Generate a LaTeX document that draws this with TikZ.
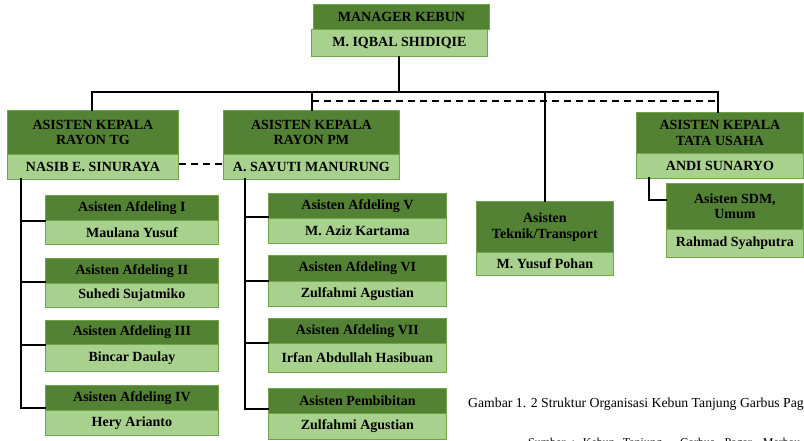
\documentclass[tikz,border=0pt]{standalone}
\usepackage{fontspec}
\setmainfont{Liberation Serif}
\begin{document}
\begin{tikzpicture}[x=1pt,y=-1pt,
  box/.style={draw=bordergreen, line width=0.8pt, inner sep=0pt, anchor=north west, align=center,
    font=\fontsize{14}{15.5}\selectfont\bfseries},
  dk/.style={box, fill=darkgreen},
  lt/.style={box, fill=lightgreen},
  con/.style={line width=2pt, line cap=rect},
  dcon/.style={line width=1.6pt, dash pattern=on 7pt off 5pt},
  captext/.style={anchor=base west, inner sep=0pt, font=\fontsize{13.75}{15}\selectfont}]
\definecolor{darkgreen}{HTML}{548235}
\definecolor{lightgreen}{HTML}{A9D18E}
\definecolor{bordergreen}{HTML}{6FA545}
\useasboundingbox (0,0) rectangle (804,440);
\clip (0,0) rectangle (804,440);

% Manager
\node[dk, minimum width=176, minimum height=25] (mgrT) at (313,4) {MANAGER KEBUN};
\node[lt, minimum width=176, minimum height=27] (mgrL) at (311,29) {M. IQBAL SHIDIQIE};

% Rayon TG
\node[dk, minimum width=171, minimum height=44] (tgT) at (7,110) {ASISTEN KEPALA\\RAYON TG};
\node[lt, minimum width=171, minimum height=25] (tgL) at (7,154) {NASIB E. SINURAYA};
% Rayon PM
\node[dk, minimum width=176, minimum height=44] (pmT) at (223,110) {ASISTEN KEPALA\\RAYON PM};
\node[lt, minimum width=176, minimum height=25] (pmL) at (223,154) {A. SAYUTI MANURUNG};
% Tata Usaha
\node[dk, minimum width=167, minimum height=41] (tuT) at (636,112) {ASISTEN KEPALA\\TATA USAHA};
\node[lt, minimum width=167, minimum height=25] (tuL) at (636,153) {ANDI SUNARYO};
% Teknik
\node[dk, minimum width=137, minimum height=51] (tkT) at (476,201) {Asisten\\Teknik/Transport};
\node[lt, minimum width=137, minimum height=23] (tkL) at (476,252) {M. Yusuf Pohan};
% SDM
\node[dk, minimum width=137, minimum height=46] (sdT) at (666,183) {Asisten SDM,\\Umum};
\node[lt, minimum width=137, minimum height=28] (sdL) at (666,229) {Rahmad Syahputra};

% Afdeling I-IV
\node[dk, minimum width=173, minimum height=25] (a1T) at (45,195) {Asisten Afdeling I};
\node[lt, minimum width=173, minimum height=24] (a1L) at (45,220) {Maulana Yusuf};
\node[dk, minimum width=173, minimum height=25] (a2T) at (45,258) {Asisten Afdeling II};
\node[lt, minimum width=173, minimum height=24] (a2L) at (45,283) {Suhedi Sujatmiko};
\node[dk, minimum width=173, minimum height=24] (a3T) at (45,320) {Asisten Afdeling III};
\node[lt, minimum width=173, minimum height=27] (a3L) at (45,344) {Bincar Daulay};
\node[dk, minimum width=173, minimum height=25] (a4T) at (45,385) {Asisten Afdeling IV};
\node[lt, minimum width=173, minimum height=25] (a4L) at (45,410) {Hery Arianto};

% Afdeling V-VII, Pembibitan
\node[dk, minimum width=178, minimum height=25] (a5T) at (268,193) {Asisten Afdeling V};
\node[lt, minimum width=178, minimum height=25] (a5L) at (268,218) {M. Aziz Kartama};
\node[dk, minimum width=178, minimum height=26] (a6T) at (268,255) {Asisten Afdeling VI};
\node[lt, minimum width=178, minimum height=25] (a6L) at (268,281) {Zulfahmi Agustian};
\node[dk, minimum width=178, minimum height=25] (a7T) at (268,318) {Asisten Afdeling VII};
\node[lt, minimum width=178, minimum height=29] (a7L) at (268,343) {Irfan Abdullah Hasibuan};
\node[dk, minimum width=178, minimum height=25] (a8T) at (268,388) {Asisten Pembibitan};
\node[lt, minimum width=178, minimum height=26] (a8L) at (268,413) {Zulfahmi Agustian};

% Connectors
\coordinate (hl) at (92,92);
\coordinate (hr) at (718,92);
\coordinate (dl) at (312,101);
\draw[con] (mgrL.south) -- (mgrL.south |- hl);
\draw[con] (tgT.north -| hl) -- (hl) -- (hr) -- (hr |- tuT.north);
\draw[con] (pmT.north -| dl) -- (dl |- hl);
\draw[con] (tkT.north) -- (tkT.north |- hl);
\draw[dcon] (dl) -- (dl -| hr);
\draw[dcon] ([yshift=3pt]tgL.east) -- ([yshift=3pt]pmL.west);

% TG children
\coordinate (tgv) at (21,179);
\draw[con] (tgv) -- ([yshift=3pt]tgv |- a4T.south west) -- ([yshift=3pt]a4T.south west);
\draw[con] (tgv |- a1T.south west) -- (a1T.south west);
\draw[con] ([yshift=2pt]tgv |- a2T.south west) -- ([yshift=2pt]a2T.south west);
\draw[con] (tgv |- a3T.south west) -- (a3T.south west);
% PM children
\coordinate (pmv) at (245,179);
\draw[con] (pmv) -- ([yshift=5pt]pmv |- a8T.south west) -- ([yshift=5pt]a8T.south west);
\draw[con] ([yshift=2pt]pmv |- a5T.south west) -- ([yshift=2pt]a5T.south west);
\draw[con] ([yshift=1pt]pmv |- a6T.south west) -- ([yshift=1pt]a6T.south west);
\draw[con] ([yshift=1pt]pmv |- a7T.south west) -- ([yshift=1pt]a7T.south west);
% TU child
\coordinate (tuv) at (649,178);
\draw[con] (tuv) -- (tuv |- 0,200) -- (sdT.west |- 0,200);

% Caption
\node[captext] (c1) at (468,407) {Gambar 1. 2 Struktur Organisasi Kebun Tanjung Garbus Pagar Merbau};
\node[captext, font=\fontsize{12}{14}\selectfont] (c2) at (528,446) {Sumber\hskip6pt:\hskip8pt Kebun\hskip8pt Tanjung\hskip18pt Garbus\hskip10pt Pagar\hskip11pt Merbau};
\end{tikzpicture}
\end{document}
